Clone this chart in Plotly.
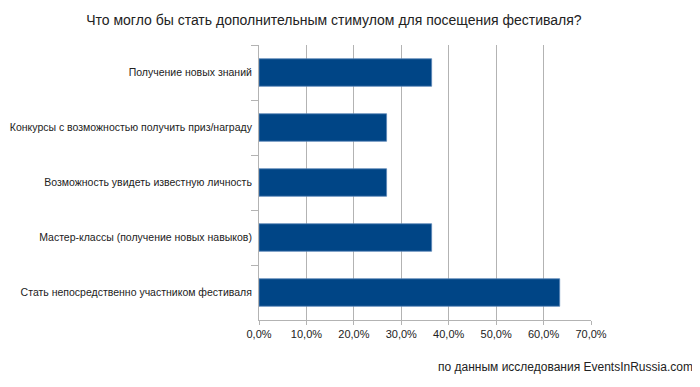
import plotly.graph_objects as go

categories = [
    "Получение новых знаний",
    "Конкурсы с возможностью получить приз/награду",
    "Возможность увидеть известную личность",
    "Мастер-классы (получение новых навыков)",
    "Стать непосредственно участником фестиваля",
]
values = [0.364, 0.269, 0.269, 0.364, 0.634]
tick_vals = [0, 0.1, 0.2, 0.3, 0.4, 0.5, 0.6, 0.7]

fig = go.Figure(go.Bar(
    x=values, y=categories, orientation="h",
    marker=dict(color="#004586", line=dict(color="#5a86b8", width=0.8)),
    width=0.5,
))

fig.update_layout(
    width=692, height=371,
    margin=dict(l=251, r=109, t=37, b=59, autoexpand=False),
    paper_bgcolor="white", plot_bgcolor="white",
    separators=", ",
    font=dict(family="Liberation Sans, Arial, sans-serif", color="#222222"),
    showlegend=False,
    title=dict(text="Что могло бы стать дополнительным стимулом для посещения фестиваля?",
               x=0.471, xanchor="center", y=1 - 12 / 371, yanchor="middle",
               font=dict(size=14, color="#222222")),
    annotations=[dict(text="по данным исследования EventsInRussia.com",
                      xref="paper", yref="paper", x=1.314, y=-0.171,
                      xanchor="right", yanchor="middle", showarrow=False,
                      font=dict(size=12, color="#222222"))],
)
fig.update_xaxes(range=[0, 0.7], tickvals=tick_vals, tickformat=".1%",
                 showgrid=True, gridcolor="#b3b3b3", gridwidth=1,
                 showline=True, linecolor="#b3b3b3", linewidth=1,
                 ticks="outside", ticklen=4, tickcolor="#b3b3b3",
                 tickfont=dict(size=11, color="#222222"), zeroline=False,
                 automargin=False)
fig.update_yaxes(autorange="reversed", tickson="boundaries",
                 showline=True, linecolor="#b3b3b3", linewidth=1,
                 ticks="outside", ticklen=7, tickcolor="#b3b3b3",
                 tickfont=dict(size=10.5, color="#222222"), showgrid=False,
                 ticklabelstandoff=4, automargin=False)

fig.write_html("out.html")
